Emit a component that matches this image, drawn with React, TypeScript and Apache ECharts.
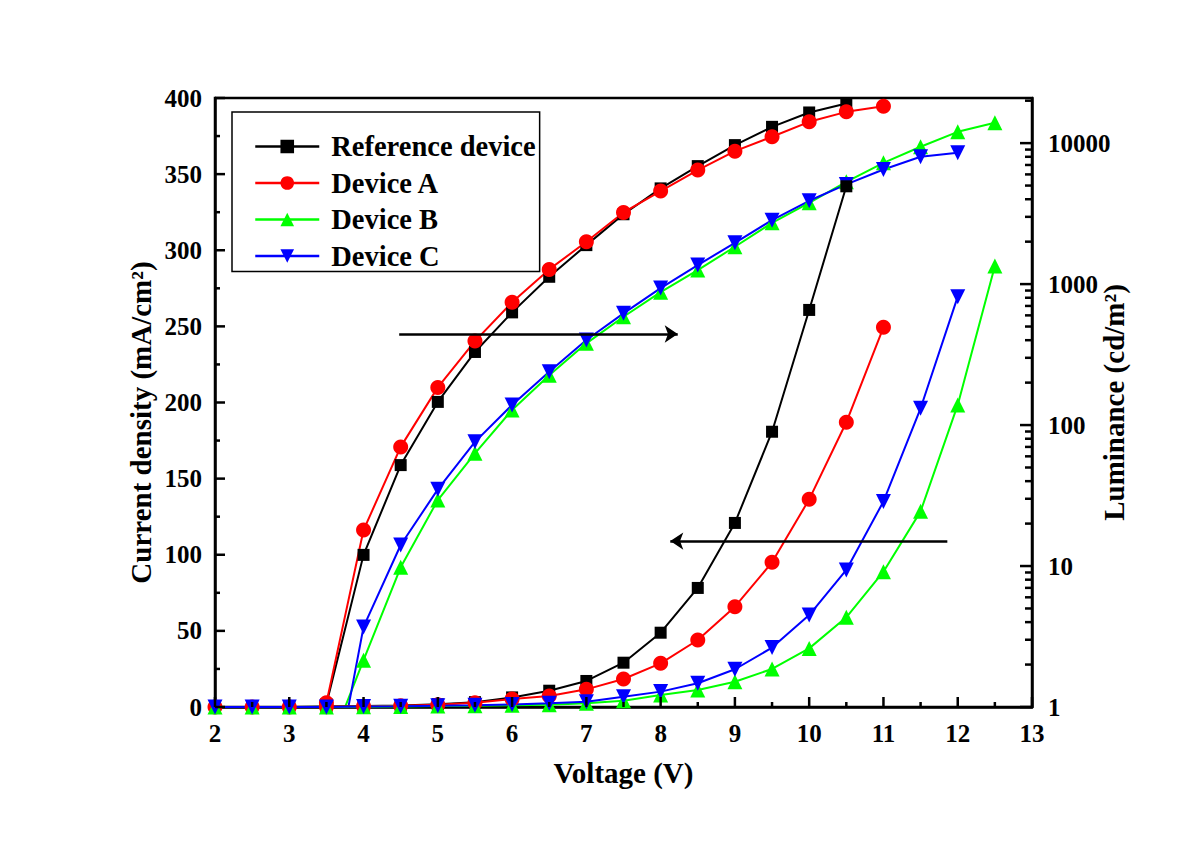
import React, { useEffect, useRef } from "react";
import * as echarts from "echarts";

const VOLTAGE = [2, 2.5, 3, 3.5, 4, 4.5, 5, 5.5, 6, 6.5, 7, 7.5, 8, 8.5, 9, 9.5, 10, 10.5, 11, 11.5, 12, 12.5];

const SERIES_NAMES = ["Reference device", "Device A", "Device B", "Device C"];
const COLORS = ["#000000", "#ff0000", "#00ff00", "#0000ff"];

// Current density (mA/cm2), aligned with VOLTAGE
const REF_J = [0, 0, 0, 0.3, 0.6, 1.0, 1.8, 3.2, 6.3, 10.7, 17.1, 29.1, 48.8, 78.2, 120.9, 180.8, 260.8, 342];
const A_J = [0, 0, 0, 0.2, 0.5, 0.9, 1.5, 2.8, 5.2, 7.2, 11.6, 18.4, 28.7, 44, 65.9, 95, 136.4, 187, 249.4];
const B_J = [0, 0, 0, 0, 0.2, 0.4, 0.6, 0.8, 1.1, 1.5, 2.4, 4.1, 7.9, 11.2, 16.6, 25, 38.5, 58.9, 88.9, 128.5, 198.4, 289.7];
const C_J = [0, 0, 0, 0, 0.3, 0.5, 0.8, 1.1, 1.6, 2.4, 3.5, 6.8, 10.1, 15.6, 24.8, 39, 60.4, 90, 135, 196.2, 269.5];

// Luminance (cd/m2), aligned with VOLTAGE
const REF_L = [null, null, null, 1.05, 12, 52, 146, 330, 630, 1127, 1890, 3130, 4775, 6870, 9680, 13050, 16500, 19100];
const A_L = [null, null, null, 1.07, 18, 70, 185, 394, 742, 1271, 1995, 3225, 4570, 6440, 8770, 11090, 14160, 16670, 18290];
const B_L = [null, null, null, 0.46, 2.15, 9.8, 29.4, 63, 128, 226, 380, 587, 877, 1257, 1840, 2720, 3775, 5320, 7250, 9420, 12030, 13930];
const C_L = [null, null, null, 0.15, 3.7, 14.1, 35, 76, 139, 239, 401, 620, 937, 1364, 1963, 2843, 3900, 5095, 6505, 8000, 8530];

const X_MIN = 2;
const X_MAX = 13;
const J_MAX = 400;
const J_STEP = 50;
const L_MIN = 1;
const L_MAX = 20900;

// arrows: [x1, y1, x2, y2] in left-axis data units
const ARROW_RIGHT = [4.48, 245, 8.23, 245];
const ARROW_LEFT = [11.86, 109, 8.13, 109];

const FONT = '"Liberation Serif", "Times New Roman", serif';

function toPairs(vals: (number | null)[]) {
  const out: number[][] = [];
  vals.forEach((v, i) => {
    if (v !== null && v !== undefined) out.push([VOLTAGE[i], v]);
  });
  return out;
}

const SYMBOLS = [
  { symbol: "rect", size: 12, rotate: 0 },
  { symbol: "circle", size: 15, rotate: 0 },
  { symbol: "triangle", size: 15, rotate: 0 },
  { symbol: "triangle", size: 15, rotate: 180 },
];

export default function App() {
  const ref = useRef<HTMLDivElement>(null);
  useEffect(() => {
    if (!ref.current) return;
    const chart = echarts.init(ref.current, null, { renderer: "svg" });
    const jData = [REF_J, A_J, B_J, C_J];
    const lData = [REF_L, A_L, B_L, C_L];

    const mk = (i: number, data: number[][], yAxisIndex: number) => ({
      type: "line",
      name: SERIES_NAMES[i],
      data,
      xAxisIndex: 0,
      yAxisIndex,
      symbol: SYMBOLS[i].symbol,
      symbolSize: SYMBOLS[i].size,
      symbolRotate: SYMBOLS[i].rotate,
      showSymbol: true,
      showAllSymbol: true,
      clip: true,
      lineStyle: { color: COLORS[i], width: 2 },
      itemStyle: { color: COLORS[i] },
      emphasis: { disabled: true },
    });

    const series: any[] = [];
    for (let i = 0; i < 4; i++) series.push(mk(i, toPairs(lData[i]), 1));
    for (let i = 0; i < 4; i++) series.push(mk(i, toPairs(jData[i]), 0));

    series[4].markLine = {
      silent: true,
      symbol: ["none", "arrow"],
      symbolSize: 13,
      label: { show: false },
      lineStyle: { color: "#000", width: 2.5, type: "solid" },
      data: [
        [{ coord: [ARROW_RIGHT[0], ARROW_RIGHT[1]] }, { coord: [ARROW_RIGHT[2], ARROW_RIGHT[3]] }],
        [{ coord: [ARROW_LEFT[0], ARROW_LEFT[1]] }, { coord: [ARROW_LEFT[2], ARROW_LEFT[3]] }],
      ],
    };

    const labelStyle = { fontFamily: FONT, fontWeight: "bold", fontSize: 25, color: "#000" };
    const nameStyle = { fontFamily: FONT, fontWeight: "bold", fontSize: 29, color: "#000" };
    const axisLine = { show: true, lineStyle: { color: "#000", width: 2.5 } };

    chart.setOption({
      animation: false,
      backgroundColor: "#fff",
      grid: { left: 215, right: 168, top: 98, bottom: 142, show: true, borderColor: "#000", borderWidth: 2.5, backgroundColor: "transparent" },
      legend: {
        data: SERIES_NAMES,
        orient: "vertical",
        left: 232,
        top: 112,
        borderColor: "#000",
        borderWidth: 1.5,
        padding: [20, 4, 1, 22],
        itemWidth: 64,
        itemHeight: 17,
        itemGap: 7.5,
        selectedMode: false,
        lineStyle: { width: 2.5 },
        textStyle: { fontFamily: FONT, fontWeight: "bold", fontSize: 28.5, color: "#000", padding: [0, 0, 0, 7] },
      },
      xAxis: {
        type: "value",
        min: X_MIN,
        max: X_MAX,
        interval: 1,
        axisLine,
        axisTick: { show: false },
        minorTick: { show: false },
        splitLine: { show: false },
        axisLabel: { ...labelStyle, margin: 14 },
        name: "Voltage (V)",
        nameLocation: "middle",
        nameGap: 51,
        nameMoveOverlap: false,
        nameTextStyle: nameStyle,
      },
      yAxis: [
        {
          type: "value",
          position: "left",
          min: 0,
          max: J_MAX,
          interval: J_STEP,
          axisLine,
          axisTick: { show: false },
          minorTick: { show: false },
          splitLine: { show: false },
          axisLabel: { ...labelStyle, margin: 13 },
          name: "Current density (mA/cm²)",
          nameLocation: "middle",
          nameGap: 60,
          nameRotate: 90,
          nameMoveOverlap: false,
          nameTextStyle: { ...nameStyle, padding: [0, 40, 0, 0] },
        },
        {
          type: "log",
          logBase: 10,
          position: "right",
          min: L_MIN,
          max: L_MAX,
          axisLine,
          axisTick: { show: false },
          minorTick: { show: false },
          splitLine: { show: false },
          axisLabel: {
            ...labelStyle,
            margin: 16,
            showMaxLabel: false,
            formatter: (v: number) => {
              const l = Math.log10(v);
              return Math.abs(l - Math.round(l)) < 1e-6 ? String(Math.round(v)) : "";
            },
          },
          name: "Luminance (cd/m²)",
          nameLocation: "middle",
          nameGap: 67,
          nameRotate: 90,
          nameMoveOverlap: false,
          nameTextStyle: nameStyle,
        },
      ],
      series,
    });

    // inward ticks drawn from the axes' own scales
    const elems: any[] = [];
    const tick = (x1: number, y1: number, x2: number, y2: number) =>
      elems.push({ type: "line", silent: true, z: 50, shape: { x1, y1, x2, y2 }, style: { stroke: "#000", lineWidth: 2.5 } });

    const xl = chart.convertToPixel({ xAxisIndex: 0 }, X_MIN) as number;
    const xr = chart.convertToPixel({ xAxisIndex: 0 }, X_MAX) as number;
    const yb = chart.convertToPixel({ yAxisIndex: 0 }, 0) as number;

    for (let v = X_MIN; v <= X_MAX + 1e-9; v += 0.5) {
      const x = chart.convertToPixel({ xAxisIndex: 0 }, v) as number;
      const major = Math.abs(v - Math.round(v)) < 1e-9;
      tick(x, yb, x, yb - (major ? 10 : 5));
    }
    for (let v = 0; v <= J_MAX + 1e-9; v += J_STEP / 2) {
      const y = chart.convertToPixel({ yAxisIndex: 0 }, v) as number;
      const major = Math.abs(v / J_STEP - Math.round(v / J_STEP)) < 1e-9;
      tick(xl, y, xl + (major ? 10 : 5), y);
    }
    for (let d = 0; d < 5; d++) {
      for (let k = 1; k < 10; k++) {
        const v = k * Math.pow(10, d);
        if (v > L_MAX) continue;
        const y = chart.convertToPixel({ yAxisIndex: 1 }, v) as number;
        tick(xr - (k === 1 ? 12 : 7), y, xr, y);
      }
    }
    chart.setOption({ graphic: elems });

    return () => chart.dispose();
  }, []);
  return <div ref={ref} style={{ position: "absolute", left: 0, top: 0, width: 1200, height: 849 }} />;
}
